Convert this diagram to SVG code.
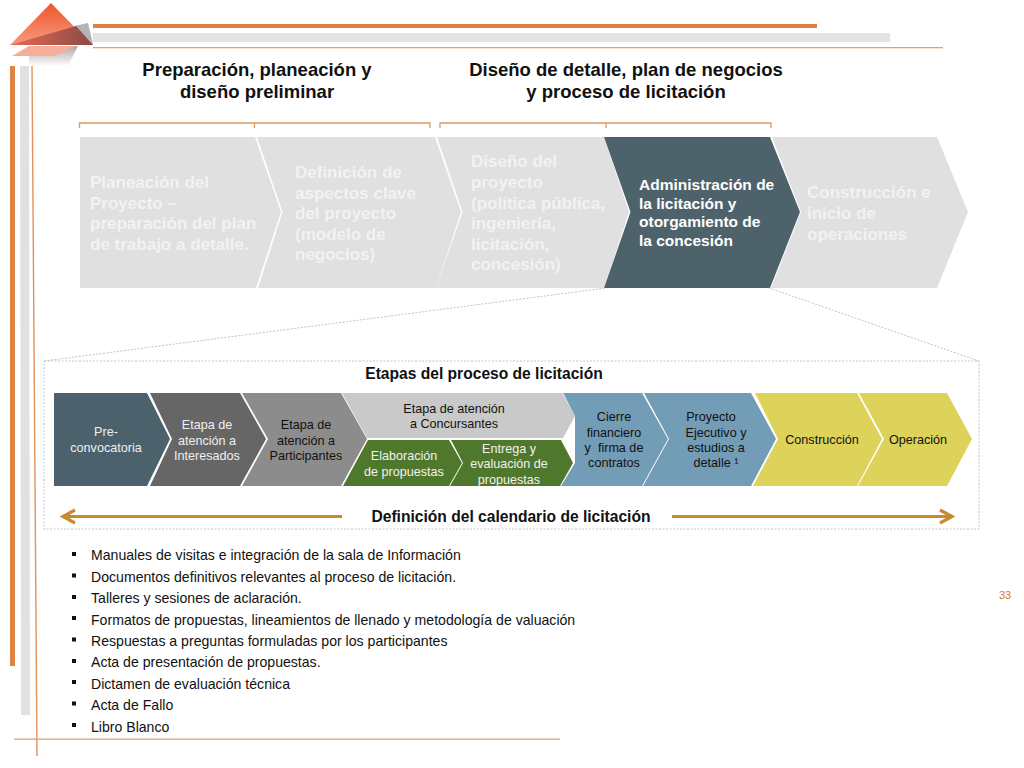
<svg xmlns="http://www.w3.org/2000/svg" width="1024" height="768" viewBox="0 0 1024 768">
<style>
text{font-family:"Liberation Sans",Arial,sans-serif}
.h{font-size:18.500px;font-weight:bold;fill:#111;text-anchor:middle}
.h2{font-size:15.600px;font-weight:bold;fill:#111;text-anchor:middle}
.big{font-size:17px;font-weight:bold;fill:#f2f2f2}
.s{font-size:12.600px;text-anchor:middle;fill:#111}
.w{fill:#f0f0f0}
.li{font-size:14.100px;fill:#111}
.brk{fill:none;stroke:#dc9a5c;stroke-width:1.3}
.dash{fill:none;stroke:#c4c4c4;stroke-width:1;stroke-dasharray:2 1.5}
.ar{stroke:#c98a2e;stroke-width:3.200;fill:none}
</style>
<defs>
<linearGradient id="tg" x1="0" y1="0" x2="0" y2="1"><stop offset="0" stop-color="#f0552a"/><stop offset="1" stop-color="#f59a80"/></linearGradient>
<linearGradient id="mg" x1="0" y1="0" x2="1" y2="0"><stop offset="0" stop-color="#e86a55"/><stop offset="1" stop-color="#8a4a45"/></linearGradient>
<linearGradient id="fg" x1="0" y1="0" x2="0" y2="1"><stop offset="0" stop-color="#b0a8a4"/><stop offset="1" stop-color="#ffffff"/></linearGradient>
</defs>
<g id="decor">
<polygon points="29,46 78,46 68,66 29,66" fill="url(#fg)"/>
<polygon points="12,56 29,46 75,46 54,56" fill="#f6ae98"/>
<polygon points="74,26 88,23 93,44 76,44" fill="#b4b4b4"/>
<polygon points="51,3 10,45 92,45" fill="url(#tg)"/>
<polygon points="10,45 76,26 93,45" fill="url(#mg)"/>
<rect x="93" y="24" width="724" height="4" fill="#e07f45"/>
<rect x="93" y="33" width="797" height="9" fill="#e3e3e3"/>
<rect x="93" y="47" width="850" height="1.300" fill="#e3a071"/>
<rect x="10" y="66" width="5" height="600" fill="#de8444"/>
<polygon points="20,66 29,66 30,715 21,715" fill="#e1e1e1"/>
<line x1="32" y1="66" x2="37" y2="756" stroke="#e2935a" stroke-width="1.400"/>
<rect x="14" y="738.500" width="546" height="1.300" fill="#e3a071"/>
<text x="999" y="599" font-size="11" fill="#d07a30">33</text>
</g>
<g id="titulos">
<text class="h" x="257" y="76">Preparación, planeación y</text>
<text class="h" x="257" y="98">diseño preliminar</text>
<text class="h" x="626" y="76">Diseño de detalle, plan de negocios</text>
<text class="h" x="626" y="98">y proceso de licitación</text>
</g>
<g id="corchetes">
<path class="brk" d="M79.500 128V123H430V128M254.500 123V128"/>
<path class="brk" d="M440 128V123H771V128M606 123V128"/>
</g>
<g id="paso-1"><polygon points="80,137 255,137 281,212 256,288 80,288" fill="#e0e0e0"/>
<text class="big" x="90" y="188">Planeación del</text><text class="big" x="90" y="208.500">Proyecto –</text><text class="big" x="90" y="229">preparación del plan</text><text class="big" x="90" y="249.500">de trabajo a detalle.</text></g>
<g id="paso-2"><polygon points="257,137 435,137 461,212 436,288 258,288 282.500,212" fill="#e0e0e0"/>
<text class="big" x="295" y="178">Definición de</text><text class="big" x="295" y="198.500">aspectos clave</text><text class="big" x="295" y="219">del proyecto</text><text class="big" x="295" y="239.500">(modelo de</text><text class="big" x="295" y="260">negocios)</text></g>
<g id="paso-3"><polygon points="437,137 604,137 629,212 604,288 436,288 462.500,212" fill="#e0e0e0"/>
<text class="big" x="471" y="167">Diseño del</text><text class="big" x="471" y="188">proyecto</text><text class="big" x="471" y="208.500">(política pública,</text><text class="big" x="471" y="229">ingeniería,</text><text class="big" x="471" y="249.500">licitación,</text><text class="big" x="471" y="270">concesión)</text></g>
<g id="paso-5"><polygon points="772,137 937,137 968,212 937,288 771,288 801,212" fill="#e0e0e0"/>
<text class="big" x="807" y="198">Construcción e</text><text class="big" x="807" y="219">inicio de</text><text class="big" x="807" y="240">operaciones</text></g>
<g id="paso-4"><polygon points="604,137 770,137 800,212 770,288 604,288 630.500,212" fill="#4e626c"/>
<g font-size="15.500" font-weight="bold" fill="#fff"><text x="639" y="190">Administración de</text><text x="639" y="208.500">la licitación y</text><text x="639" y="227">otorgamiento de</text><text x="639" y="245.500">la concesión</text></g></g>
<g id="recuadro">
<path class="dash" d="M44 361H979V529H44Z"/>
<path class="dash" d="M44 361L606 288M979 361L769 288"/>
<text class="h2" x="484" y="379">Etapas del proceso de licitación</text>
</g>
<g id="e-pre"><polygon points="54,393 147,393 170,439 147,486 54,486" fill="#4b616c"/><text class="s w" x="106" y="436">Pre-</text><text class="s w" x="106" y="452">convocatoria</text></g>
<g id="e-int"><polygon points="150,393 240,393 266,439 240,486 150,486 172,439" fill="#666"/><text class="s w" x="207" y="429">Etapa de</text><text class="s w" x="207" y="444.500">atención a</text><text class="s w" x="207" y="460">Interesados</text></g>
<g id="e-par"><polygon points="242,393 341,393 367,439 341,486 242,486 268,439" fill="#8c8c8c"/><text class="s" x="306" y="429">Etapa de</text><text class="s" x="306" y="444.500">atención a</text><text class="s" x="306" y="460">Participantes</text></g>
<g id="e-con"><polygon points="342,393 562,393 575,416 563,438 367,438" fill="#c9c9c9"/><text class="s" x="454" y="413">Etapa de atención</text><text class="s" x="454" y="428">a Concursantes</text></g>
<g id="e-ela"><polygon points="368,440 449,440 462,463 449,486 343,486" fill="#50782d"/><text class="s w" x="404" y="460">Elaboración</text><text class="s w" x="404" y="476">de propuestas</text></g>
<g id="e-ent"><polygon points="451,440 561,440 573,463 560,486 450,486 463,463" fill="#50782d"/><text class="s w" x="509" y="453">Entrega y</text><text class="s w" x="509" y="468">evaluación de</text><text class="s w" x="509" y="484">propuestas</text></g>
<g id="e-cie"><polygon points="563,393 642,393 668,439 642,486 561,486 575,463 575,416" fill="#739cb7"/><text class="s" x="614" y="421">Cierre</text><text class="s" x="614" y="436.500">financiero</text><text class="s" x="614" y="452" xml:space="preserve">y  firma de</text><text class="s" x="614" y="467">contratos</text></g>
<g id="e-pro"><polygon points="644,393 751,393 776,439 751,486 643,486 669,439" fill="#739cb7"/><text class="s" x="711" y="421">Proyecto</text><text class="s" x="716" y="436.500">Ejecutivo y</text><text class="s" x="716" y="452">estudios a</text><text class="s" x="716" y="467">detalle ¹</text></g>
<g id="e-cons"><polygon points="755,393 857,393 882,439 857,486 753,486 778,439" fill="#ddd35a"/><text class="s" x="822" y="444">Construcción</text></g>
<g id="e-ope"><polygon points="859,393 947,393 972,439 947,486 858,486 884,439" fill="#ddd35a"/><text class="s" x="918" y="444">Operación</text></g>
<g id="connectors">
<path class="ar" d="M342 516.500H63M75 510L63 516.500L75 523"/>
<path class="ar" d="M672 516.500H952M940 510L952 516.500L940 523"/>
</g>
<text class="h2" x="511" y="522">Definición del calendario de licitación</text>
<g id="lista">
<g fill="#111"><rect x="72" y="552" width="4" height="4"/><rect x="72" y="573.500" width="4" height="4"/><rect x="72" y="595" width="4" height="4"/><rect x="72" y="616" width="4" height="4"/><rect x="72" y="637.500" width="4" height="4"/><rect x="72" y="659" width="4" height="4"/><rect x="72" y="680" width="4" height="4"/><rect x="72" y="701.500" width="4" height="4"/><rect x="72" y="723" width="4" height="4"/></g>
<text class="li" x="91" y="560">Manuales de visitas e integración de la sala de Información</text>
<text class="li" x="91" y="582">Documentos definitivos relevantes al proceso de licitación.</text>
<text class="li" x="91" y="603">Talleres y sesiones de aclaración.</text>
<text class="li" x="91" y="624.500">Formatos de propuestas, lineamientos de llenado y metodología de valuación</text>
<text class="li" x="91" y="646">Respuestas a preguntas formuladas por los participantes</text>
<text class="li" x="91" y="667">Acta de presentación de propuestas.</text>
<text class="li" x="91" y="689">Dictamen de evaluación técnica</text>
<text class="li" x="91" y="710">Acta de Fallo</text>
<text class="li" x="91" y="732">Libro Blanco</text>
</g>
</svg>
